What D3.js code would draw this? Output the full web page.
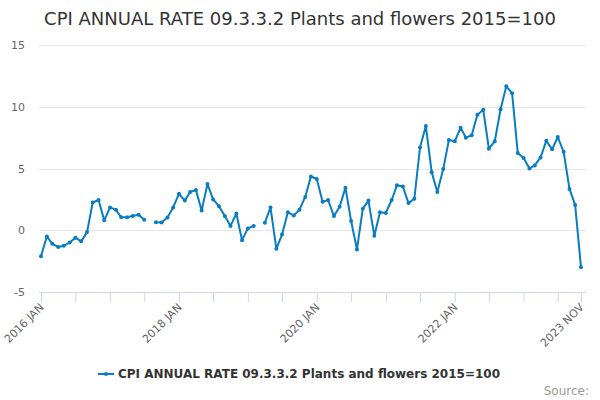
<!DOCTYPE html>
<html>
<head>
<meta charset="utf-8">
<script src="https://cdn.jsdelivr.net/npm/d3@7"></script>
<style>
  html, body { margin: 0; padding: 0; background: #fff; }
  svg { display: block; font-family: "DejaVu Sans", sans-serif; }
</style>
</head>
<body>
<svg id="chart" width="600" height="400"></svg>
<script>
const title = "CPI ANNUAL RATE 09.3.3.2 Plants and flowers 2015=100";
const seriesName = "CPI ANNUAL RATE 09.3.3.2 Plants and flowers 2015=100";
const startMonth = "2016-01";
const values = [
  -2.1, -0.5, -1.1, -1.35, -1.25, -1.0, -0.6, -0.9, -0.15, 2.25, 2.45, 0.8,
  1.85, 1.65, 1.05, 1.05, 1.15, 1.25, 0.85, null, 0.65, 0.62, 1.03, 1.85,
  2.95, 2.4, 3.1, 3.25, 1.6, 3.75, 2.5, 1.95, 1.15, 0.35, 1.35, -0.8,
  0.15, 0.35, null, 0.6, 1.85, -1.5, -0.35, 1.45, 1.2, 1.65, 2.7, 4.35,
  4.15, 2.3, 2.45, 1.15, 1.9, 3.45, 0.75, -1.55, 1.75, 2.4, -0.45, 1.45,
  1.4, 2.45, 3.65, 3.55, 2.2, 2.55, 6.7, 8.45, 4.7, 3.1, 4.95, 7.3,
  7.2, 8.3, 7.5, 7.7, 9.35, 9.75, 6.6, 7.2, 9.8, 11.65, 11.1, 6.25,
  5.85, 5.0, 5.25, 5.9, 7.25, 6.55, 7.55, 6.35, 3.35, 2.05, -3.0
];
const yTicks = [-5, 0, 5, 10, 15];
const xTickMonths = ["2016-01","2016-07","2017-01","2017-07","2018-01","2018-07","2019-01","2019-07","2020-01","2020-07","2021-01","2021-07","2022-01","2022-07","2023-01","2023-07","2023-11"];
const xTickLabels = {"2016-01":"2016 JAN","2018-01":"2018 JAN","2020-01":"2020 JAN","2022-01":"2022 JAN","2023-11":"2023 NOV"};
const sourceText = "Source:";

const parse = d3.timeParse("%Y-%m");
const fmt = d3.timeFormat("%Y-%m");
const start = parse(startMonth);
const data = values.map((v, i) => ({ date: d3.timeMonth.offset(start, i), value: v }));

const svg = d3.select("#chart");
const color = "#0a7cc1";
const plotLeft = 39, plotRight = 586, plotTop = 45, plotBottom = 292;

const x = d3.scaleTime()
  .domain([data[0].date, data[data.length - 1].date])
  .range([41, 581]);
const y = d3.scaleLinear().domain([-5, 15]).range([plotBottom, plotTop]);

// title
svg.append("text")
  .attr("x", 300).attr("y", 25)
  .attr("text-anchor", "middle")
  .attr("font-size", 18)
  .attr("fill", "#333")
  .text(title);

// gridlines
svg.append("g").selectAll("line")
  .data(yTicks.filter(t => t !== -5))
  .join("line")
  .attr("x1", plotLeft).attr("x2", plotRight)
  .attr("y1", d => Math.round(y(d)) + 0.5).attr("y2", d => Math.round(y(d)) + 0.5)
  .attr("stroke", "#e6e6e6").attr("stroke-width", 1);

// y labels
svg.append("g").selectAll("text")
  .data(yTicks)
  .join("text")
  .attr("x", 25).attr("y", d => y(d) + 4)
  .attr("text-anchor", "end")
  .attr("font-size", 11)
  .attr("fill", "#666")
  .text(d => d);

// x axis
const xAxis = d3.axisBottom(x)
  .tickValues(xTickMonths.map(parse))
  .tickSize(10)
  .tickFormat(d => xTickLabels[fmt(d)] || "");
const gx = svg.append("g")
  .attr("transform", `translate(0,${plotBottom})`)
  .call(xAxis);
gx.select(".domain").attr("d", `M${plotLeft},0.5H${plotRight}`).attr("stroke", "#ccd6eb");
gx.selectAll(".tick line").attr("stroke", "#ccd6eb");
gx.selectAll(".tick text")
  .attr("font-size", 11)
  .attr("font-family", "DejaVu Sans, sans-serif")
  .attr("fill", "#666")
  .attr("text-anchor", "end")
  .attr("dy", null)
  .attr("y", 0)
  .attr("transform", "translate(3,16) rotate(-45)");

// line
const line = d3.line()
  .defined(d => d.value !== null)
  .x(d => x(d.date))
  .y(d => y(d.value));
svg.append("path")
  .datum(data)
  .attr("fill", "none")
  .attr("stroke", color)
  .attr("stroke-width", 2)
  .attr("stroke-linejoin", "round")
  .attr("d", line);

svg.append("g").selectAll("circle")
  .data(data.filter(d => d.value !== null))
  .join("circle")
  .attr("cx", d => x(d.date))
  .attr("cy", d => y(d.value))
  .attr("r", 2)
  .attr("fill", color);

// legend
const lg = svg.append("g").attr("transform", "translate(98,374)");
lg.append("line").attr("x1", 0).attr("x2", 16).attr("y1", 0).attr("y2", 0)
  .attr("stroke", color).attr("stroke-width", 2);
lg.append("circle").attr("cx", 8).attr("cy", 0).attr("r", 2).attr("fill", color);
lg.append("text")
  .attr("x", 20).attr("y", 4)
  .attr("font-size", 12).attr("font-weight", "bold")
  .attr("fill", "#333")
  .text(seriesName);

// source
svg.append("text")
  .attr("x", 589).attr("y", 395)
  .attr("text-anchor", "end")
  .attr("font-size", 12)
  .attr("fill", "#999")
  .text(sourceText);
</script>
</body>
</html>
